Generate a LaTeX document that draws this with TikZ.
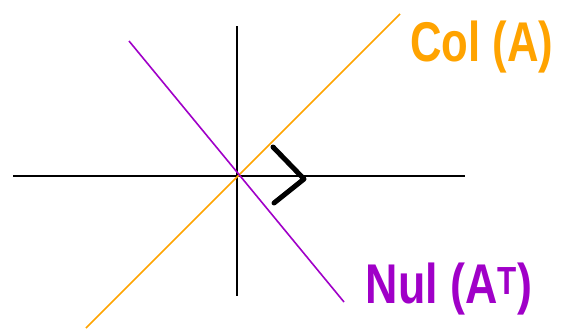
\documentclass[tikz,border=0pt]{standalone}
\usepackage{fontspec}
\setmainfont{Liberation Sans}
\usepackage{xcolor}
\usetikzlibrary{positioning}
\definecolor{colorange}{RGB}{255,163,0}
\definecolor{nulpurple}{RGB}{160,0,200}

\begin{document}
\begin{tikzpicture}[
  x=1pt,y=-1pt,
  axis/.style={draw=black,line width=2pt},
  subspace/.style={line width=1.6pt},
  rightmark/.style={draw=black,line width=5pt,line cap=round,line join=round},
  lbl/.style={inner sep=0pt,font=\fontsize{56}{56}\selectfont\bfseries}
]
\useasboundingbox (0,0) rectangle (564,333);
% axes
\coordinate (xl) at (13,176);
\coordinate (xr) at (465,176);
\coordinate (yt) at (237,26);
\coordinate (yb) at (237,296);
% subspaces
\coordinate (cl) at (86,328);
\coordinate (cr) at (400,14);
\coordinate (nl) at (129,41);
\coordinate (nr) at (344,302);
% right angle mark
\coordinate (ma) at (273,147);
\coordinate (mb) at (304,179);
\coordinate (mc) at (274,203);

\draw[axis] (xl)--(xr);
\draw[axis] (yt)--(yb);
\draw[subspace,colorange] (cl)--(cr);
\draw[subspace,nulpurple] (nl)--(nr);
\draw[rightmark] (ma)--(mb)--(mc);

\node[lbl,text=colorange] (col) at (482,47) {\scalebox{0.78}[1]{Col (A)}};
\node[lbl,text=nulpurple] (nul) at (449,289) {\scalebox{0.8}[1]{Nul (A$^{\mathbf{T}}$)}};
\end{tikzpicture}
\end{document}
